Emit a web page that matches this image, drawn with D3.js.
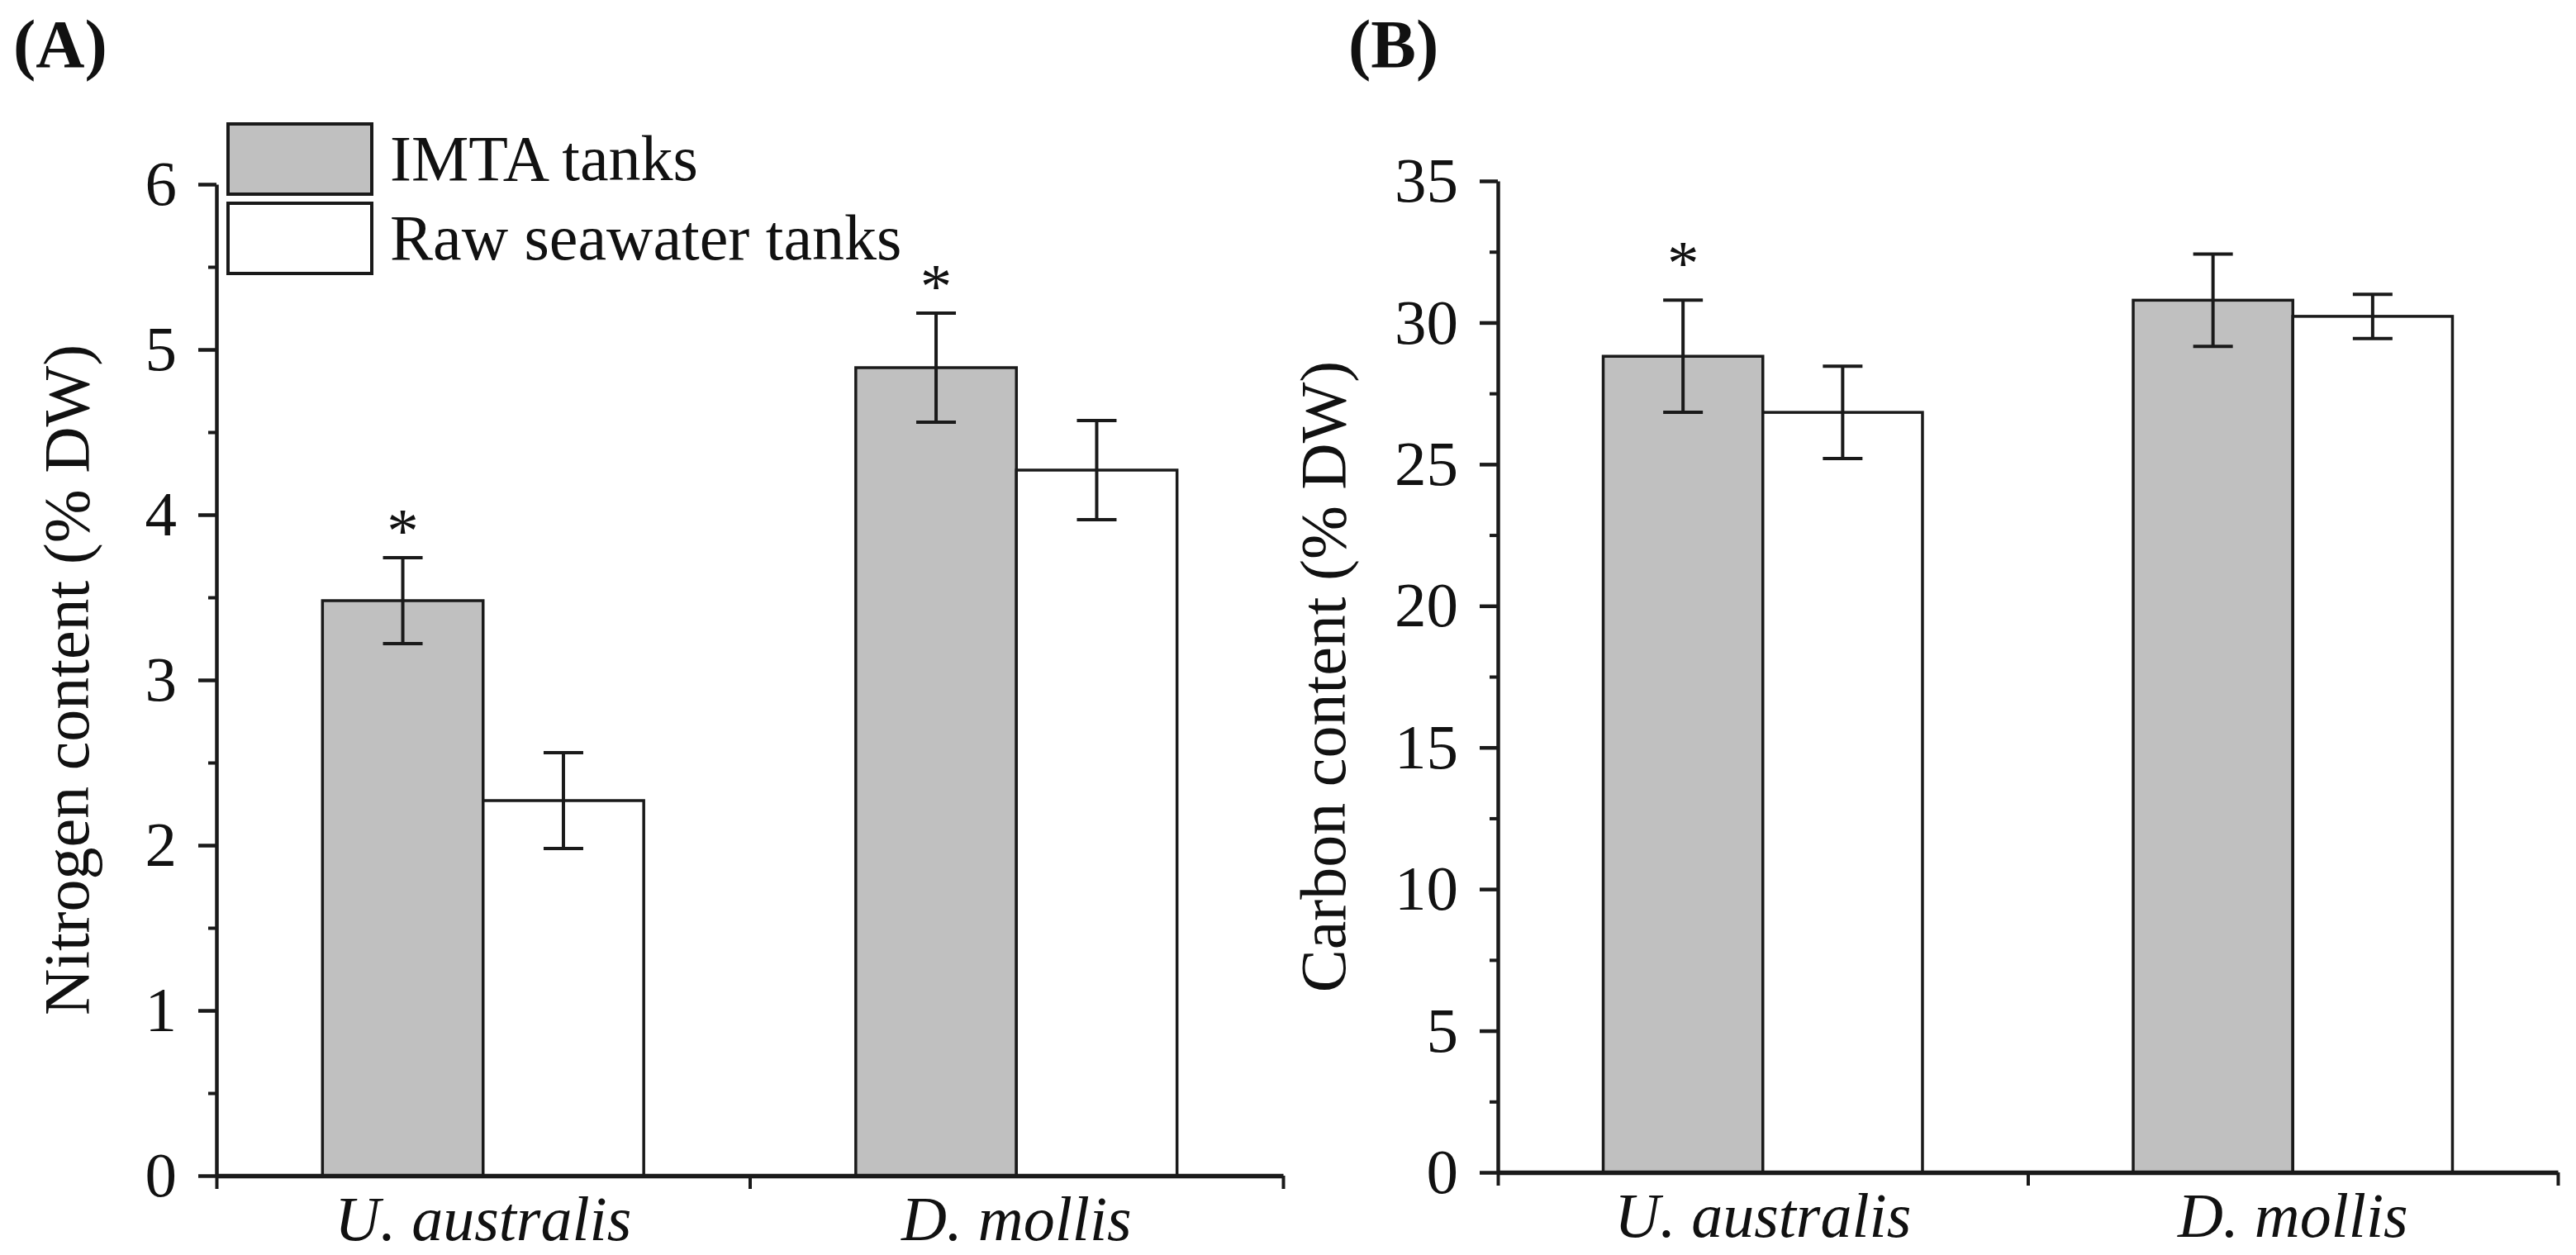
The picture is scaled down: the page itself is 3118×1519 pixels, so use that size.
<!DOCTYPE html>
<html>
<head>
<meta charset="utf-8">
<script src="https://cdn.jsdelivr.net/npm/d3@7"></script>
<style>
  html, body { margin: 0; padding: 0; background: #fff; }
  svg { display: block; }
  text { font-family: "Liberation Serif", "Times New Roman", serif; fill: #111; }
</style>
</head>
<body>
<svg id="chart" width="3118" height="1519"></svg>
<script>
// ---------- data ----------
const categories = ["U. australis", "D. mollis"];
const seriesNames = ["IMTA tanks", "Raw seawater tanks"];
const seriesFill = ["#c0c0c0", "#ffffff"];

// Panel A: Nitrogen content (% DW)
const nitrogenIMTA = [3.48, 4.89];
const nitrogenIMTAErr = [0.26, 0.33];
const nitrogenRaw = [2.27, 4.27];
const nitrogenRawErr = [0.29, 0.30];
const nitrogenSig = [[true, false], [true, false]];   // [category][series]
const nitrogenTicks = [0, 1, 2, 3, 4, 5, 6];
const nitrogenMinor = [0.5, 1.5, 2.5, 3.5, 4.5, 5.5];

// Panel B: Carbon content (% DW)
const carbonIMTA = [28.81, 30.79];
const carbonIMTAErr = [1.98, 1.63];
const carbonRaw = [26.83, 30.22];
const carbonRawErr = [1.63, 0.78];
const carbonSig = [[true, false], [false, false]];
const carbonTicks = [0, 5, 10, 15, 20, 25, 30, 35];
const carbonMinor = [2.5, 7.5, 12.5, 17.5, 22.5, 27.5, 32.5];

// ---------- drawing ----------
const svg = d3.select("#chart");
const FONT = 77;

function panel(cfg) {
  const g = svg.append("g");
  const x0 = d3.scaleBand().domain(categories).range([cfg.left, cfg.right]).padding(0);
  const x1 = d3.scaleBand().domain(seriesNames).range([0, x0.bandwidth()])
               .paddingInner(0).paddingOuter(0.66);
  const y = d3.scaleLinear().domain(cfg.domain).range([cfg.bottom, cfg.top]);

  const rows = [];
  categories.forEach((c, i) => {
    rows.push({cat: c, s: 0, v: cfg.vals[0][i], e: cfg.errs[0][i], sig: cfg.sig[i][0]});
    rows.push({cat: c, s: 1, v: cfg.vals[1][i], e: cfg.errs[1][i], sig: cfg.sig[i][1]});
  });

  // bars
  g.selectAll("rect.bar").data(rows).join("rect")
    .attr("class", "bar")
    .attr("x", d => x0(d.cat) + x1(seriesNames[d.s]))
    .attr("width", x1.bandwidth())
    .attr("y", d => y(d.v))
    .attr("height", d => y(0) - y(d.v))
    .attr("fill", d => seriesFill[d.s])
    .attr("stroke", "#1a1a1a")
    .attr("stroke-width", 3.5);

  // error bars
  const cap = 24;
  const eb = g.selectAll("g.eb").data(rows).join("g").attr("class", "eb")
    .attr("stroke", "#1a1a1a").attr("stroke-width", 4);
  const cx = d => x0(d.cat) + x1(seriesNames[d.s]) + x1.bandwidth() / 2;
  eb.append("line").attr("x1", cx).attr("x2", cx)
    .attr("y1", d => y(d.v + d.e)).attr("y2", d => y(d.v - d.e));
  eb.append("line").attr("x1", d => cx(d) - cap).attr("x2", d => cx(d) + cap)
    .attr("y1", d => y(d.v + d.e)).attr("y2", d => y(d.v + d.e));
  eb.append("line").attr("x1", d => cx(d) - cap).attr("x2", d => cx(d) + cap)
    .attr("y1", d => y(d.v - d.e)).attr("y2", d => y(d.v - d.e));

  // significance stars
  g.selectAll("text.star").data(rows.filter(d => d.sig)).join("text")
    .attr("class", "star")
    .attr("x", cx)
    .attr("y", d => y(d.v + d.e) - cfg.starGap + 36)
    .attr("text-anchor", "middle")
    .attr("font-size", FONT)
    .text("*");

  // y axis (major)
  const yAxis = g.append("g").attr("transform", `translate(${cfg.left},0)`)
    .call(d3.axisLeft(y).tickValues(cfg.ticks).tickSize(22).tickSizeOuter(0).tickPadding(26)
      .tickFormat(d3.format("d")));
  yAxis.select(".domain").attr("stroke", "#1a1a1a").attr("stroke-width", 4.5);
  yAxis.selectAll(".tick line").attr("stroke", "#1a1a1a").attr("stroke-width", 4.5);
  yAxis.selectAll(".tick text").attr("font-size", FONT)
    .attr("font-family", "Liberation Serif, Times New Roman, serif").attr("fill", "#111");

  // y axis minor ticks
  const yMinor = g.append("g").attr("transform", `translate(${cfg.left},0)`)
    .call(d3.axisLeft(y).tickValues(cfg.minor).tickSize(10).tickSizeOuter(0).tickFormat(""));
  yMinor.select(".domain").remove();
  yMinor.selectAll(".tick line").attr("stroke", "#1a1a1a").attr("stroke-width", 4);

  // x axis (ticks at band edges)
  const xe = d3.scaleLinear().domain([0, categories.length]).range([cfg.left, cfg.right]);
  const xAxis = g.append("g").attr("transform", `translate(0,${cfg.bottom})`)
    .call(d3.axisBottom(xe).tickValues(d3.range(categories.length + 1)).tickSize(16)
      .tickSizeOuter(0).tickFormat(""));
  xAxis.select(".domain").attr("stroke", "#1a1a1a").attr("stroke-width", 5.5);
  xAxis.selectAll(".tick line").attr("stroke", "#1a1a1a").attr("stroke-width", 4);

  // x category labels
  const xLab = g.append("g").attr("transform", `translate(0,${cfg.bottom})`)
    .call(d3.axisBottom(x0).tickSize(0).tickPadding(0));
  xLab.select(".domain").remove();
  xLab.selectAll(".tick text").attr("font-size", 76).attr("font-style", "italic")
    .attr("font-family", "Liberation Serif, Times New Roman, serif").attr("fill", "#111")
    .attr("dy", null).attr("y", 78);

  // y title
  g.append("text")
    .attr("transform", `translate(${cfg.titleX},${(cfg.top + cfg.bottom) / 2}) rotate(-90)`)
    .attr("text-anchor", "middle")
    .attr("font-size", 78)
    .text(cfg.title);

  // panel label
  g.append("text")
    .attr("x", cfg.labelX).attr("y", 81)
    .attr("font-size", 82).attr("font-weight", "bold")
    .text(cfg.label);

  return {x0, x1, y};
}

panel({
  left: 262, right: 1553, top: 223, bottom: 1423,
  domain: [0, 6], ticks: nitrogenTicks, minor: nitrogenMinor,
  vals: [nitrogenIMTA, nitrogenRaw], errs: [nitrogenIMTAErr, nitrogenRawErr],
  sig: nitrogenSig, starGap: 43,
  title: "Nitrogen content (% DW)", titleX: 107,
  label: "(A)", labelX: 16
});

panel({
  left: 1813, right: 3096, top: 219, bottom: 1419,
  domain: [0, 35], ticks: carbonTicks, minor: carbonMinor,
  vals: [carbonIMTA, carbonRaw], errs: [carbonIMTAErr, carbonRawErr],
  sig: carbonSig, starGap: 55,
  title: "Carbon content (% DW)", titleX: 1628,
  label: "(B)", labelX: 1632
});

// legend (panel A)
const legend = svg.append("g").attr("transform", "translate(276,150)");
const lg = legend.selectAll("g").data(seriesNames).join("g")
  .attr("transform", (d, i) => `translate(0,${i * 96})`);
lg.append("rect").attr("width", 174).attr("height", 85)
  .attr("fill", (d, i) => seriesFill[i]).attr("stroke", "#1a1a1a").attr("stroke-width", 4);
lg.append("text").attr("x", 196).attr("y", 68).attr("font-size", 78).text(d => d);
</script>
</body>
</html>
